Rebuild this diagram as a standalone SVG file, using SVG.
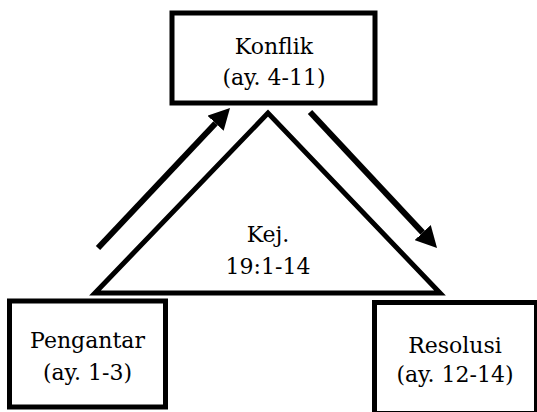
<svg xmlns="http://www.w3.org/2000/svg" width="537" height="412" viewBox="0 0 537 412">
  <style>
    .box { fill: #ffffff; stroke: #000000; stroke-width: 5; }
    .tri { fill: #ffffff; stroke: #000000; stroke-width: 5; stroke-linejoin: miter; }
    .lbl { font-family: "DejaVu Serif", serif; font-size: 22px; fill: #000000; text-anchor: middle; }
    .arrow { stroke: #000000; stroke-width: 6; fill: none; }
  </style>
  <defs>
    <marker id="head" markerUnits="userSpaceOnUse" viewBox="0 0 21 22" markerWidth="21" markerHeight="22" refX="0" refY="11" orient="auto">
      <path d="M0,0 L21,11 L0,22 z" fill="#000000"/>
    </marker>
  </defs>
  <rect width="537" height="412" fill="#ffffff"/>

  <g id="kejadian">
    <polygon class="tri" points="268,113 95,293 440,293"/>
    <text class="lbl" x="268" y="242">Kej.</text>
    <text class="lbl" x="268" y="274">19:1-14</text>
  </g>

  <g id="konflik">
    <rect class="box" x="172" y="13" width="203" height="90"/>
    <text class="lbl" x="274" y="54">Konflik</text>
    <text class="lbl" x="274" y="85">(ay. 4-11)</text>
  </g>

  <g id="pengantar">
    <rect class="box" x="9.5" y="301" width="156" height="106"/>
    <text class="lbl" x="87.5" y="348">Pengantar</text>
    <text class="lbl" x="87.5" y="380">(ay. 1-3)</text>
  </g>

  <g id="resolusi">
    <rect class="box" x="374.5" y="302.5" width="162" height="111"/>
    <text class="lbl" x="455" y="353">Resolusi</text>
    <text class="lbl" x="455" y="382">(ay. 12-14)</text>
  </g>

  <g id="connectors">
    <line class="arrow" x1="98" y1="248" x2="215.6" y2="123.3" marker-end="url(#head)"/>
    <line class="arrow" x1="310" y1="112" x2="422.7" y2="232.6" marker-end="url(#head)"/>
  </g>
</svg>
